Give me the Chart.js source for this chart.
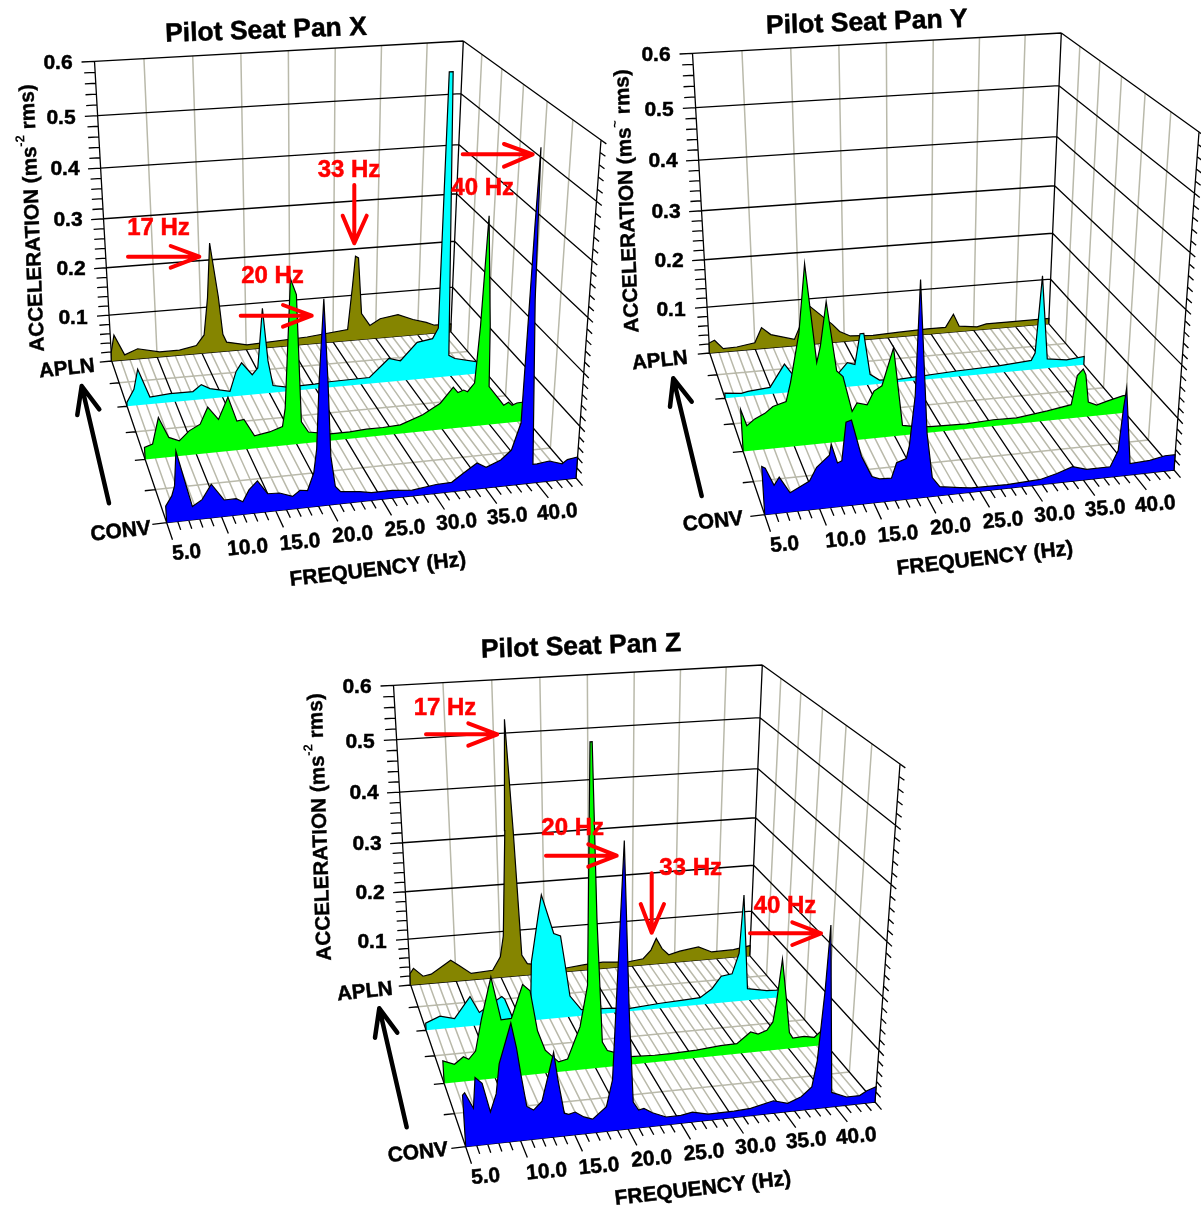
<!DOCTYPE html>
<html>
<head>
<meta charset="utf-8">
<title>Pilot Seat Pan</title>
<script src="https://cdn.jsdelivr.net/npm/chart.js@4/dist/chart.umd.js"></script>
<style>
  html, body { margin: 0; padding: 0; background: #fff; width: 1201px; height: 1216px; overflow: hidden; }
  canvas { position: absolute; }
</style>
</head>
<body>
<canvas id="panelX" width="610" height="600" style="left:0;top:0"></canvas>
<canvas id="panelY" width="603" height="600" style="left:598px;top:-8px"></canvas>
<canvas id="panelZ" width="610" height="592" style="left:299px;top:624px"></canvas>
<script>
// Eixos
const hzMajor = [5, 10, 15, 20, 25, 30, 35, 40];
const hzLabels = ['5.0', '10.0', '15.0', '20.0', '25.0', '30.0', '35.0', '40.0'];
const accMajor = [0.1, 0.2, 0.3, 0.4, 0.5, 0.6];
const accLabels = ['0.1', '0.2', '0.3', '0.4', '0.5', '0.6'];
const depthSeries = [0, 1 / 3, 2 / 3, 1]; // APLN ... CONV

// Espectros, pares [Hz, aceleracao]
const xOlive = [[5,.019],[5.4,.056],[6.45,.011],[7.9,.022],[10.3,.011],[12.5,.011],[14.4,.018],[15.3,.04],[15.8,.12],[16.2,.235],[17,.12],[17.4,.038],[17.8,.02],[20.1,.01],[27,.016],[31.7,.025],[32.2,.12],[32.5,.184],[32.85,.18],[33.3,.058],[34.3,.03],[35.5,.043],[37.6,.049],[39.4,.035],[41,.026],[42,.018],[44,.018]];
const xCyan = [[5,.008],[5.8,.034],[6.3,.075],[7.4,.015],[9.5,.018],[11.9,.018],[12.8,.031],[13.7,.021],[15.8,.011],[16.5,.052],[17.1,.069],[18.2,.042],[18.8,.055],[19.4,.177],[19.9,.068],[20.4,.015],[21.9,.009],[24.9,.01],[26.5,.012],[30.9,.013],[33,.05],[34.3,.043],[36.1,.079],[37.8,.084],[38.4,.105],[38.55,.6],[38.95,.6],[39.7,.045],[40.4,.037],[42.8,.026],[44,.026]];
const xGreen = [[5,.024],[5.8,.029],[6.5,.08],[7.4,.039],[8.4,.03],[9.4,.048],[10.5,.059],[11.3,.091],[12.3,.065],[13.3,.107],[14.1,.058],[14.8,.06],[15.8,.025],[17.3,.03],[18.6,.038],[18.9,.074],[19.6,.32],[20.15,.29],[20.5,.044],[21.2,.022],[23.4,.014],[25.4,.014],[27.1,.016],[28.8,.016],[30.6,.018],[32.9,.034],[34.7,.054],[36,.084],[36.5,.072],[37.1,.076],[37.5,.072],[38.2,.088],[38.35,.134],[38.55,.2],[38.9,.406],[39.55,.2],[39.75,.078],[40.8,.052],[41.4,.037],[41.9,.042],[42.3,.035],[42.8,.039],[44,.04]];
const xBlue = [[5,.031],[5.6,.049],[5.9,.067],[6.2,.13],[7.4,.025],[8.3,.036],[9.2,.063],[10.3,.031],[11.4,.031],[12,.024],[12.6,.045],[13.4,.06],[14.3,.034],[15.4,.033],[16.6,.024],[17.3,.034],[18,.032],[18.6,.064],[18.9,.108],[19.2,.23],[19.7,.373],[20,.23],[20.2,.092],[20.6,.034],[21.1,.023],[22.9,.019],[24,.015],[26,.015],[27.9,.011],[30.2,.017],[31.7,.018],[32.8,.033],[34.1,.05],[35,.04],[36.4,.051],[37.4,.068],[38.2,.118],[38.35,.29],[38.5,.47],[38.65,.595],[38.9,.34],[39.6,.036],[40,.036],[41.2,.039],[42.5,.031],[43,.038],[44,.041]];

const yOlive = [[5,.022],[5.6,.027],[6.5,.007],[8,.008],[10,.014],[10.8,.046],[11.8,.029],[14.4,.014],[16.1,.086],[18.7,.04],[19.5,.023],[20.7,.011],[23.3,.008],[26.3,.01],[29.6,.012],[31.7,.012],[32.6,.04],[33.3,.012],[35.4,.007],[36.5,.012],[39.3,.012],[44,.012]];
const yCyan = [[5,.011],[6.7,.007],[7.4,.01],[9.7,.014],[11.3,.06],[12,.04],[16.8,.028],[17.9,.051],[18.7,.046],[19.3,.109],[19.7,.109],[20.3,.022],[21.3,.008],[23.5,.006],[29.7,.012],[34.5,.015],[36.7,.018],[38,.02],[38.4,.035],[38.9,.196],[39.8,.02],[42,.014],[44,.018]];
const yGreen = [[5,.083],[5.5,.05],[6.3,.062],[7.3,.071],[8.1,.083],[9.4,.09],[9.9,.126],[10.9,.218],[11.7,.345],[12.5,.16],[12.9,.19],[13.6,.273],[14.4,.14],[15,.128],[15.8,.058],[16.3,.074],[17.3,.068],[18,.094],[18.8,.103],[20,.175],[20.8,.02],[21.9,.016],[23.6,.012],[27.3,.01],[30.1,.013],[32.5,.012],[35.7,.02],[38.2,.028],[38.7,.086],[39.3,.098],[39.6,.086],[40,.03],[40.9,.022],[42,.028],[43.7,.036],[44,.036]];
const yBlue = [[5,.09],[5.3,.086],[6,.053],[6.5,.067],[7.4,.036],[8.4,.046],[9.2,.054],[9.9,.078],[11.1,.098],[11.3,.118],[11.8,.082],[12.2,.085],[12.7,.155],[13.2,.158],[14,.09],[14.9,.05],[15.6,.044],[16.7,.043],[17.2,.071],[18.1,.077],[18.4,.1],[19,.19],[19.6,.392],[20.05,.12],[20.5,.036],[21.2,.017],[23.1,.011],[24.2,.008],[27.6,.007],[30.8,.01],[32.4,.018],[33.9,.028],[35.3,.02],[37.6,.02],[38.3,.05],[38.6,.13],[38.8,.167],[39.55,.022],[41.5,.024],[43,.03],[44,.03]];

const zOlive = [[5,.025],[5.4,.036],[6.4,.017],[7.3,.02],[9.5,.047],[10.4,.034],[11.7,.014],[14.1,.017],[15,.045],[15.4,.09],[15.9,.31],[16.2,.526],[16.8,.31],[17.3,.09],[17.4,.045],[18,.025],[22.4,.008],[24.5,.012],[26.6,.014],[28,.012],[29.6,.01],[31.3,.014],[32.2,.032],[32.8,.057],[33.5,.033],[34.3,.018],[35.6,.024],[37.8,.03],[39.4,.016],[42,.017],[44,.023]];
const zCyan = [[5,.015],[6.5,.027],[8,.019],[9.7,.062],[10.6,.027],[13,.056],[13.3,.05],[14,.013],[16,.03],[16.2,.122],[17,.212],[17.4,.255],[18.6,.176],[19.3,.17],[19.7,.116],[20.2,.044],[21.4,.013],[24.8,.01],[26.5,.006],[30,.011],[32.5,.013],[34.4,.015],[35.7,.032],[36.7,.057],[37.9,.06],[38.6,.102],[38.9,.222],[39.7,.025],[41.9,.017],[43,.016],[44,.018]];
const zGreen = [[5,.045],[6.1,.036],[7,.049],[7.5,.043],[8.2,.058],[8.9,.118],[10,.198],[10.8,.114],[11.8,.115],[13,.178],[13.7,.165],[14.3,.086],[15,.046],[16.3,.02],[17.2,.024],[18.5,.086],[19.3,.165],[19.85,.6],[20.05,.6],[20.3,.29],[20.7,.051],[21.2,.033],[21.9,.028],[23.5,.016],[26,.014],[27.6,.014],[30.3,.016],[32.8,.02],[34.5,.021],[35.9,.042],[36.7,.036],[37.6,.042],[38.2,.058],[38.5,.1],[38.9,.182],[39.6,.09],[40,.033],[40.4,.021],[41.6,.022],[42.7,.018],[43.4,.03],[44,.03]];
const zBlue = [[5,.096],[5.2,.1],[5.9,.07],[6.2,.126],[6.8,.114],[7.4,.06],[8,.092],[8.4,.146],[9.6,.217],[10,.172],[10.3,.122],[10.7,.063],[11.3,.055],[12.1,.07],[12.7,.113],[13.3,.157],[13.6,.108],[14.1,.043],[14.5,.04],[15.1,.043],[15.9,.032],[16.7,.026],[18,.047],[18.6,.096],[19.9,.509],[20.2,.217],[20.5,.05],[21,.034],[21.5,.036],[22.3,.026],[23.6,.015],[25,.015],[26.1,.019],[27.6,.012],[30.1,.012],[31.7,.014],[33.9,.024],[35.3,.016],[36.6,.026],[37.6,.043],[38,.092],[38.4,.224],[38.6,.338],[39.6,.028],[41.1,.016],[42.4,.016],[43.1,.024],[44,.03]];

const seriesColors = ['#858500', '#00ffff', '#00ff00', '#0000ff'];

// Caixa 3D, cantos em pixels do painel
const box = {
  blb: [111.7, 361], brb: [450.7, 331.7], flb: [166.7, 522.7], frb: [576, 478],
  blt: [94.5, 61.3], brt: [463.3, 41], flt: [145, 172], frt: [601, 140]
};

function warp(t, k) { return t / (k + (1 - k) * t); }
function mix(a, b, t) { return [a[0] + (b[0] - a[0]) * t, a[1] + (b[1] - a[1]) * t]; }

// hz 5-44, depth 0 (APLN) a 1 (CONV), acc 0-0.6
function project(hz, depth, acc) {
  const u = warp((hz - 5) / 39, 0.95);
  const v = warp(depth, 1.286);
  const w = warp(acc / 0.6, 1.107);
  const bottom = mix(mix(box.blb, box.brb, u), mix(box.flb, box.frb, u), v);
  const top = mix(mix(box.blt, box.brt, u), mix(box.flt, box.frt, u), v);
  const p = mix(bottom, top, w);
  return { x: p[0], y: p[1] };
}

function lines(segments) {
  const pts = [];
  segments.forEach(s => { pts.push(project(...s[0]), project(...s[1]), { x: NaN, y: NaN }); });
  return pts;
}

function greyGrid() {
  const seg = [];
  hzMajor.slice(1).forEach(h => seg.push([[h, 0, 0], [h, 0, 0.6]]));
  for (let i = 1; i < 6; i += 2) seg.push([[5, i / 6, 0], [44, i / 6, 0]]);
  for (let i = 1; i < 6; i++) seg.push([[44, i / 6, 0], [44, i / 6, 0.6]]);
  for (let h = 6; h < 44; h++) {
    if (h % 5 !== 0) seg.push([[h, 0, 0], [h, 1, 0]]);
  }
  return lines(seg);
}

function blackGrid() {
  const seg = [];
  accMajor.forEach(a => {
    seg.push([[5, 0, a], [44, 0, a]]);
    seg.push([[44, 0, a], [44, 1, a]]);
  });
  hzMajor.forEach(h => seg.push([[h, 0, 0], [h, 1, 0]]));
  seg.push([[5, 0, 0], [44, 0, 0]], [[44, 0, 0], [44, 1, 0]], [[5, 1, 0], [44, 1, 0]]);
  seg.push([[5, 0, 0], [5, 0, 0.6]], [[44, 0, 0], [44, 0, 0.6]], [[44, 1, 0], [44, 1, 0.6]]);
  seg.push([[5, 0, 0], [5, 1, 0]]);
  // marcas de escala
  for (let i = 0; i <= 30; i++) {
    const a = i * 0.02;
    seg.push([[i % 5 === 0 ? 3.7 : 3.9, 0, a], [5, 0, a]]);
    seg.push([[44, 1, a], [44, 1.03, a]]);
  }
  for (let h = 5; h <= 44; h++) {
    seg.push([[h, 1, 0], [h, h % 5 === 0 ? 1.08 : 1.04, 0]]);
  }
  for (let i = 1; i <= 6; i++) seg.push([[i === 6 ? 3.7 : 4, i / 6, 0], [5, i / 6, 0]]);
  return lines(seg);
}

function ribbon(values, depth) {
  const first = values[0][0], last = values[values.length - 1][0];
  return [project(first, depth, 0)]
    .concat(values.map(v => project(v[0], depth, v[1])))
    .concat([project(last, depth, 0)]);
}

// Preenche a fita usando os pontos ja calculados pelas escalas
const ribbonFill = {
  id: 'ribbonFill',
  beforeDatasetDraw(chart, args) {
    const ds = chart.data.datasets[args.index];
    if (!ds.ribbonColor) return;
    const ctx = chart.ctx;
    ctx.save();
    ctx.beginPath();
    args.meta.data.forEach((pt, i) => { if (i === 0) ctx.moveTo(pt.x, pt.y); else ctx.lineTo(pt.x, pt.y); });
    ctx.closePath();
    ctx.fillStyle = ds.ribbonColor;
    ctx.fill();
    ctx.restore();
  }
};

const FONT = '"Liberation Sans", Arial, sans-serif';

function drawText(ctx, text, x, y, size, color, angle) {
  ctx.save();
  ctx.translate(x, y + 1);
  ctx.rotate((angle || 0) * Math.PI / 180);
  ctx.font = `bold ${size}px ${FONT}`;
  ctx.fillStyle = color;
  ctx.strokeStyle = color;
  ctx.lineWidth = 0.5;
  ctx.textAlign = 'center';
  ctx.textBaseline = 'middle';
  ctx.fillText(text, 0, 0);
  ctx.strokeText(text, 0, 0);
  ctx.restore();
}

function drawYTitle(ctx, x, y, angle, sup) {
  const size = 20.7;
  ctx.save();
  ctx.translate(x, y);
  ctx.rotate(angle * Math.PI / 180);
  ctx.textBaseline = 'middle';
  ctx.textAlign = 'left';
  ctx.fillStyle = '#000';
  ctx.strokeStyle = '#000';
  ctx.lineWidth = 0.4;
  ctx.font = `bold ${size}px ${FONT}`;
  const a = 'ACCELERATION (ms', b = ' rms)';
  const wa = ctx.measureText(a).width, wb = ctx.measureText(b).width;
  ctx.font = `bold 13px ${FONT}`;
  const ws = ctx.measureText(sup).width;
  let left = -(wa + wb + ws) / 2;
  ctx.font = `bold ${size}px ${FONT}`;
  ctx.fillText(a, left, 0);
  ctx.strokeText(a, left, 0);
  ctx.font = `bold 13px ${FONT}`;
  ctx.fillText(sup, left + wa, -9);
  ctx.font = `bold ${size}px ${FONT}`;
  ctx.fillText(b, left + wa + ws, 0);
  ctx.strokeText(b, left + wa + ws, 0);
  ctx.restore();
}

function drawArrow(ctx, a, color, width) {
  ctx.save();
  ctx.strokeStyle = color;
  ctx.lineWidth = width;
  ctx.lineCap = 'round';
  ctx.lineJoin = 'round';
  ctx.beginPath();
  ctx.moveTo(a.tail[0], a.tail[1]);
  ctx.lineTo(a.tip[0], a.tip[1]);
  ctx.moveTo(a.b1[0], a.b1[1]);
  ctx.lineTo(a.tip[0], a.tip[1]);
  ctx.lineTo(a.b2[0], a.b2[1]);
  ctx.stroke();
  ctx.restore();
}

const hzLabelPos = [[186.7, 552], [247.7, 547], [300, 541.7], [352.7, 534.3], [405, 528], [456.7, 521.7], [507.3, 516], [557.3, 511.7]];
const accLabelPos = [[73, 317], [71, 268], [68, 219], [65, 168], [61, 117], [58, 62]];

const annotations = {
  panelX: {
    title: ['Pilot Seat Pan X', 266, 30, -2], freq: [378, 569, -6.7], acc: [33, 218, -92.3], sup: '-2',
    apln: [67, 368], conv: [120.7, 530.7],
    arrow: { tail: [109, 503.3], tip: [81.7, 386], b1: [77.3, 415], b2: [99.3, 409.3] },
    red: [
      { text: '17 Hz', at: [158.5, 227.5], tail: [128, 256.7], tip: [199.3, 256.7], b1: [170.7, 246], b2: [170.7, 267.7] },
      { text: '20 Hz', at: [272.5, 275.5], tail: [240.7, 315.7], tip: [311.7, 315.7], b1: [283, 305], b2: [283, 326.7] },
      { text: '33 Hz', at: [349, 169], tail: [354.3, 185], tip: [354.3, 243.3], b1: [342.7, 215.7], b2: [366.7, 215.7] },
      { text: '40 Hz', at: [482.7, 187], tail: [462.7, 154.3], tip: [532.7, 154.3], b1: [504, 144], b2: [504, 166.7] }
    ]
  },
  panelY: {
    title: ['Pilot Seat Pan Y', 268.8, 30, -2], freq: [387, 566, -6.7], acc: [29.5, 209, -92.3], sup: '~',
    apln: [62, 368], conv: [115, 529],
    arrow: { tail: [103.7, 504], tip: [75.3, 386.3], b1: [72, 414.7], b2: [93.7, 409.7] },
    red: []
  },
  panelZ: {
    title: ['Pilot Seat Pan Z', 282, 22, -2], freq: [404, 564, -6.7], acc: [21.5, 203, -92], sup: '-2',
    apln: [66, 367], conv: [119, 528],
    arrow: { tail: [107.7, 503.3], tip: [80.3, 384.3], b1: [76, 413.7], b2: [98.3, 408.7] },
    red: [
      { text: '17 Hz', at: [146, 83], tail: [127, 110.3], tip: [198.3, 110.3], b1: [169.3, 99.3], b2: [169.3, 121.7] },
      { text: '20 Hz', at: [273.7, 203.5], tail: [247, 231.7], tip: [317.7, 231.7], b1: [289.3, 220.3], b2: [289.3, 242.7] },
      { text: '33 Hz', at: [391.7, 243], tail: [352.7, 249.3], tip: [352.7, 308.7], b1: [341.7, 280], b2: [365, 280] },
      { text: '40 Hz', at: [486, 281.5], tail: [451, 309.3], tip: [522, 309.3], b1: [493.3, 298.3], b2: [493.3, 321] }
    ]
  }
};

const panelText = {
  id: 'panelText',
  afterDatasetsDraw(chart) {
    const ctx = chart.ctx;
    const a = annotations[chart.canvas.id];
    drawText(ctx, a.title[0], a.title[1], a.title[2], 26.5, '#000', a.title[3]);
    drawText(ctx, 'FREQUENCY (Hz)', a.freq[0], a.freq[1], 21, '#000', a.freq[2]);
    drawYTitle(ctx, a.acc[0], a.acc[1], a.acc[2], a.sup);
    hzLabels.forEach((t, i) => drawText(ctx, t, hzLabelPos[i][0], hzLabelPos[i][1], 21, '#000', -5));
    accLabels.forEach((t, i) => drawText(ctx, t, accLabelPos[i][0], accLabelPos[i][1], 21, '#000', 0));
    drawText(ctx, 'APLN', a.apln[0], a.apln[1], 20.5, '#000', -6);
    drawText(ctx, 'CONV', a.conv[0], a.conv[1], 21, '#000', -6);
    drawArrow(ctx, a.arrow, '#000', 4.5);
    a.red.forEach(r => {
      drawArrow(ctx, r, '#ff0000', 4);
      drawText(ctx, r.text, r.at[0], r.at[1], 24, '#ff0000', 0);
    });
  }
};

function buildPanel(id, spectra) {
  const canvas = document.getElementById(id);
  const datasets = [
    { data: greyGrid(), borderColor: '#b9b9aa', borderWidth: 1.5, order: 7 },
    { data: blackGrid(), borderColor: '#000', borderWidth: 1.3, order: 6 }
  ];
  spectra.forEach((values, i) => {
    datasets.push({
      data: ribbon(values, depthSeries[i]),
      borderColor: '#000',
      borderWidth: 1.2,
      ribbonColor: seriesColors[i],
      order: 5 - i
    });
  });
  new Chart(canvas, {
    type: 'scatter',
    data: { datasets: datasets.map(d => Object.assign({ showLine: true, pointRadius: 0, tension: 0, spanGaps: false, fill: false }, d)) },
    options: {
      responsive: false,
      animation: false,
      layout: { padding: 0 },
      plugins: { legend: { display: false }, tooltip: { enabled: false } },
      scales: {
        x: { type: 'linear', display: false, min: 0, max: canvas.width },
        y: { type: 'linear', display: false, min: 0, max: canvas.height, reverse: true }
      }
    },
    plugins: [ribbonFill, panelText]
  });
}

buildPanel('panelX', [xOlive, xCyan, xGreen, xBlue]);
buildPanel('panelY', [yOlive, yCyan, yGreen, yBlue]);
buildPanel('panelZ', [zOlive, zCyan, zGreen, zBlue]);
</script>
</body>
</html>
